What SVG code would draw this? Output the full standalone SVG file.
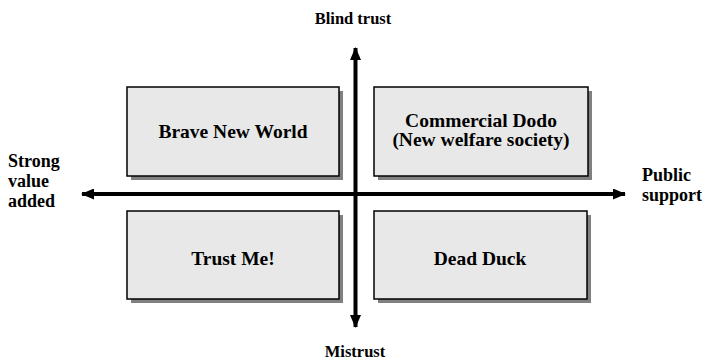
<svg xmlns="http://www.w3.org/2000/svg" width="708" height="361" viewBox="0 0 708 361">
<style>
text{font-family:"Liberation Serif","Times New Roman",serif;font-weight:bold;font-size:16.5px;fill:#000}
.c{text-anchor:middle}
.bl{font-size:19.5px}
.sd{font-size:18px}
.box{fill:#e8e8e8;stroke:#000;stroke-width:1.5}
.sh{fill:#808080}
.ax{stroke:#000;stroke-width:4;fill:none}
</style>
<defs>
<marker id="ah" viewBox="0 0 13 11" refX="12" refY="5.5" markerWidth="13" markerHeight="11" markerUnits="userSpaceOnUse" orient="auto">
<path d="M0,0 L13,5.5 L0,11 Z" fill="#000"/>
</marker>
</defs>
<rect x="0" y="0" width="708" height="361" fill="#fff"/>
<g id="n-brave">
<rect class="sh" x="131" y="91" width="212" height="89"/>
<rect class="box" x="127" y="87" width="212" height="89"/>
<text class="c bl" x="233" y="138">Brave New World</text>
</g>
<g id="n-dodo">
<rect class="sh" x="378" y="91" width="214" height="89"/>
<rect class="box" x="374" y="87" width="214" height="89"/>
<text class="c bl" x="481" y="127">Commercial Dodo</text>
<text class="c bl" x="481" y="146">(New welfare society)</text>
</g>
<g id="n-trust">
<rect class="sh" x="131" y="215" width="212" height="88"/>
<rect class="box" x="127" y="211" width="212" height="88"/>
<text class="c bl" x="233" y="265">Trust Me!</text>
</g>
<g id="n-duck">
<rect class="sh" x="378" y="215" width="213" height="88"/>
<rect class="box" x="374" y="211" width="213" height="88"/>
<text class="c bl" x="480" y="265">Dead Duck</text>
</g>
<g id="connectors">
<line class="ax" x1="355.5" y1="194" x2="355.5" y2="48" marker-end="url(#ah)"/>
<line class="ax" x1="355.5" y1="194" x2="355.5" y2="327" marker-end="url(#ah)"/>
<line class="ax" x1="355" y1="194" x2="82" y2="194" marker-end="url(#ah)"/>
<line class="ax" x1="355" y1="194" x2="625" y2="194" marker-end="url(#ah)"/>
</g>
<g id="labels">
<text class="c" x="353" y="24">Blind trust</text>
<text class="c" x="355" y="357">Mistrust</text>
<text class="sd" x="8" y="167">Strong</text>
<text class="sd" x="8" y="187">value</text>
<text class="sd" x="8" y="207">added</text>
<text class="sd" x="642" y="181">Public</text>
<text class="sd" x="642" y="201">support</text>
</g>
</svg>
